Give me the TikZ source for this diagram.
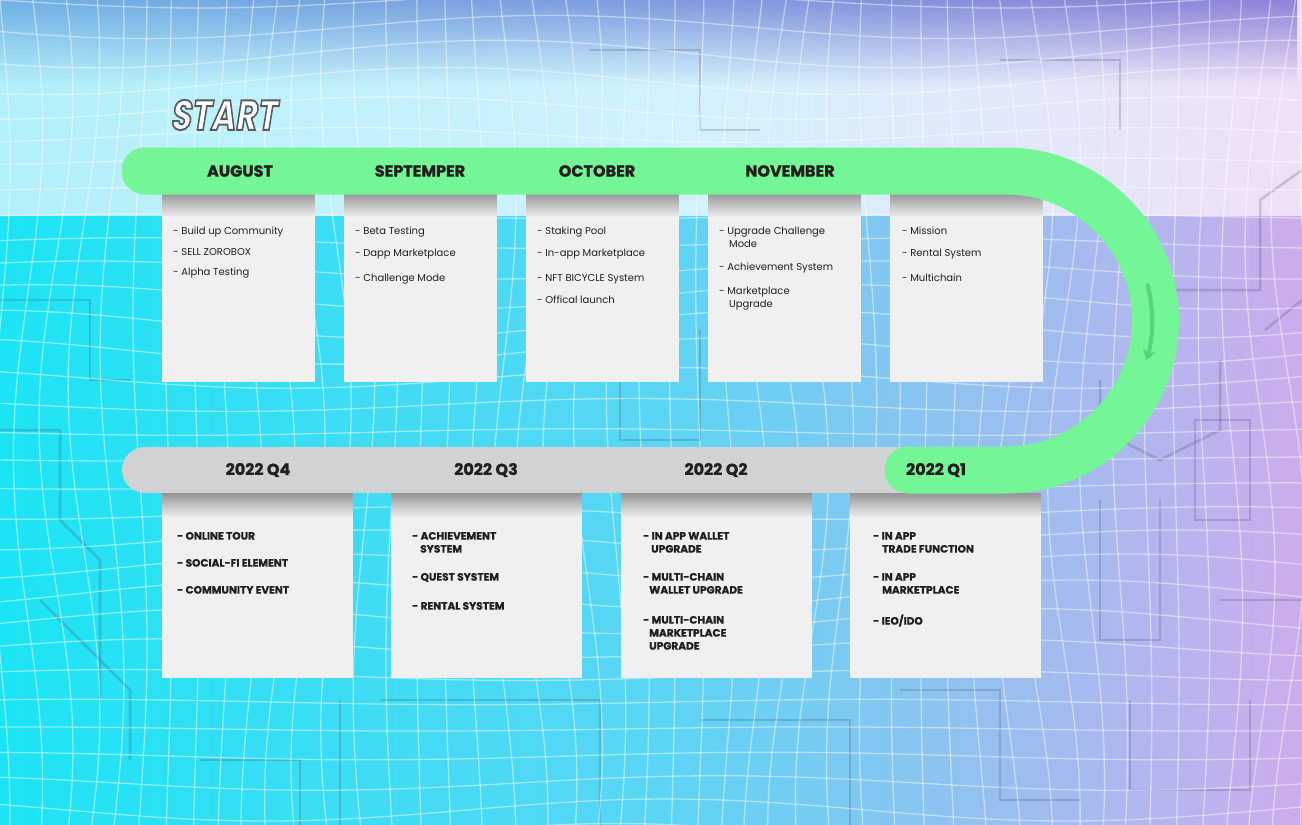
\documentclass[tikz,border=0pt]{standalone}
\usepackage{fontspec}
\setmainfont{Poppins}
\newfontfamily\startfont[FakeSlant=0.2]{Poppins}
\newfontfamily\headfont[FakeBold=1.3]{Poppins}
\newfontfamily\itbfont[FakeBold=0.9]{Poppins}
\usetikzlibrary{fadings,arrows.meta}
\tikzfading[name=fadedown, top color=transparent!0, bottom color=transparent!100]
\definecolor{rgreen}{RGB}{116,245,150}
\definecolor{rgray}{RGB}{209,210,212}
\definecolor{boxc}{RGB}{240,240,240}
\definecolor{shadowc}{RGB}{150,150,150}
\definecolor{txt}{RGB}{35,31,32}
\definecolor{arrowc}{RGB}{88,212,125}
\definecolor{bgA}{RGB}{28,228,244}
\definecolor{bgB}{RGB}{90,214,244}
\definecolor{bgC}{RGB}{205,172,236}
\definecolor{tpA}{RGB}{178,240,250}
\definecolor{tpB}{RGB}{208,242,252}
\definecolor{tpC}{RGB}{240,224,247}
\definecolor{topblue}{RGB}{100,165,225}
\definecolor{toppurp}{RGB}{125,115,210}
\definecolor{decoc}{RGB}{60,70,90}
\newcommand\ti[4]{\node[itm] (#1) at (#2,{#3+3.5}) {#4};}
\newcommand\tb[4]{\node[itb] (#1) at (#2,{#3+3.6}) {#4};}
\newcommand\boxshadow[1]{\fill[shadowc, path fading=fadedown] (#1.north west) rectangle ([yshift=-24pt]#1.north east);}
\newcommand\outlined[1]{\special{pdf:literal direct 2 Tr 1.6 w 0.35 0.35 0.37 RG}#1\special{pdf:literal direct 0 Tr}}
\begin{document}
\begin{tikzpicture}[x=1pt,y=-1pt,
  head/.style={font=\fontsize{16}{16}\selectfont\headfont\bfseries, text=txt, inner sep=0},
  itm/.style={font=\fontsize{10}{12}\selectfont, text=txt, inner sep=0, anchor=base west},
  itb/.style={font=\fontsize{10.6}{12}\selectfont\itbfont\bfseries, text=txt, inner sep=0, anchor=base west},
  tbox/.style={fill=boxc, inner sep=0, anchor=north west, draw=none},
  topbox/.style={tbox, minimum width=153pt, minimum height=189pt},
  botbox/.style={tbox, minimum width=191pt, minimum height=185pt},
  startt/.style={font=\fontsize{35}{35}\selectfont\startfont\bfseries, inner sep=0},
  deco/.style={draw=decoc, draw opacity=0.22, line width=2.5pt},
]
\useasboundingbox (0,0) rectangle (1302,825);
% background
\begin{scope}
\clip (0,0) rectangle (1302,825);
\shade[left color=bgA, right color=bgC, middle color=bgB] (0,215) rectangle (1302,825);
\shade[left color=tpA, right color=tpC, middle color=tpB] (0,0) rectangle (1302,215);
\shade[left color=topblue, right color=toppurp, path fading=fadedown, opacity=0.85] (0,0) rectangle (1302,85);
% decorative outlines
\draw[deco] (0,430) -- (60,430) -- (60,520) -- (100,560) -- (100,700);
\draw[deco] (620,330) -- (620,440) -- (700,440) -- (700,330);
\draw[deco] (1100,380) -- (1100,430) -- (1160,460) -- (1220,430) -- (1220,360);
\draw[deco] (1165,290) -- (1260,290) -- (1260,200) -- (1302,170);
\draw[deco] (1265,330) -- (1302,300);
\draw[deco] (1195,420) -- (1250,420) -- (1250,520) -- (1195,520) -- cycle;
\draw[deco] (1100,500) -- (1100,640) -- (1160,640) -- (1160,500);
\draw[deco] (1220,600) -- (1302,600);
\draw[deco] (340,700) -- (340,825);
\draw[deco] (380,700) -- (600,700) -- (600,825);
\draw[deco] (700,720) -- (850,720) -- (850,825);
\draw[deco] (900,690) -- (1000,690) -- (1000,800) -- (1080,800);
\draw[deco] (1130,700) -- (1130,790) -- (1250,790) -- (1250,700);
\draw[deco] (0,300) -- (90,300) -- (90,380) -- (130,380);
\draw[deco] (40,600) -- (130,690) -- (130,760);
\draw[deco] (590,50) -- (700,50) -- (700,130) -- (760,130);
\draw[deco] (1000,60) -- (1120,60) -- (1120,130);
\draw[deco] (200,760) -- (300,760) -- (300,825);
% wavy grid
\begin{scope}[white, line width=1.3pt, opacity=0.45]
\foreach \k in {0,...,31} {
  \draw plot[domain=0:1302, samples=45, smooth] (\x,{\k*27 + (8+6*sin(\k*37))*sin(\x*0.45+\k*23)});
}
\foreach \k in {-1,...,48} {
  \draw plot[domain=0:825, samples=35, smooth] ({\k*28 + (10+7*sin(\k*41))*sin(\x*0.55+\k*19)},\x);
}
\end{scope}
\end{scope}
% START
\node[startt, text=white] (start) at (223,115) {\scalebox{0.95}[1.2]{\outlined{START}}};
% boxes
\node[topbox] (b1) at (162,193) {};
\node[topbox] (b2) at (344,193) {};
\node[topbox] (b3) at (526,193) {};
\node[topbox] (b4) at (708,193) {};
\node[topbox] (b5) at (890,193) {};
\node[botbox] (q4) at (162,493) {};
\node[botbox] (q3) at (391,493) {};
\node[botbox] (q2) at (621,493) {};
\node[botbox] (q1) at (850,493) {};
\foreach \b in {b1,b2,b3,b4,b5,q4,q3,q2,q1} {\boxshadow{\b}}
% bars
\draw[rgray, line width=46pt, line cap=round] (145,470) -- (1006,470);
\draw[rgreen, line width=47pt, line cap=round] (145,171) -- (1006,171)
  arc[start angle=-90, end angle=90, radius=149.5] -- (908,470);
\draw[arrowc, line width=4pt, line cap=round, -{Stealth[length=11pt,width=13pt]}]
  (1006,320.5) ++(-14:146) arc[start angle=-14, end angle=16, radius=146];
% headings
\node[head] (h1) at (240,171) {AUGUST};
\node[head] (h2) at (420,171) {SEPTEMPER};
\node[head] (h3) at (597,171) {OCTOBER};
\node[head] (h4) at (790,171) {NOVEMBER};
\node[head] (g4) at (258,470) {2022 Q4};
\node[head] (g3) at (486,470) {2022 Q3};
\node[head] (g2) at (716,470) {2022 Q2};
\node[head] (g1) at (936,470) {2022 Q1};
% top items
\ti{a1}{173}{231}{- Build up Community}
\ti{a2}{173}{252}{- SELL ZOROBOX}
\ti{a3}{173}{272}{- Alpha Testing}
\ti{s1}{355}{231}{- Beta Testing}
\ti{s2}{355}{253}{- Dapp Marketplace}
\ti{s3}{355}{278}{- Challenge Mode}
\ti{o1}{537}{231}{- Staking Pool}
\ti{o2}{537}{253}{- In-app Marketplace}
\ti{o3}{537}{278}{- NFT BICYCLE System}
\ti{o4}{537}{300}{- Offical launch}
\ti{n1}{719}{231}{- Upgrade Challenge}
\ti{n1b}{729}{244}{Mode}
\ti{n2}{719}{267}{- Achievement System}
\ti{n3}{719}{291}{- Marketplace}
\ti{n3b}{729}{304}{Upgrade}
\ti{m1}{902}{231}{- Mission}
\ti{m2}{902}{253}{- Rental System}
\ti{m3}{902}{278}{- Multichain}
% bottom items
\tb{r1}{177}{536}{- ONLINE TOUR}
\tb{r2}{177}{563}{- SOCIAL-FI ELEMENT}
\tb{r3}{177}{590}{- COMMUNITY EVENT}
\tb{t1}{412}{536}{- ACHIEVEMENT}
\tb{t1b}{420}{549}{SYSTEM}
\tb{t2}{412}{577}{- QUEST SYSTEM}
\tb{t3}{412}{606}{- RENTAL SYSTEM}
\tb{u1}{643}{536}{- IN APP WALLET}
\tb{u1b}{651}{549}{UPGRADE}
\tb{u2}{643}{577}{- MULTI-CHAIN}
\tb{u2b}{649}{590}{WALLET UPGRADE}
\tb{u3}{643}{620}{- MULTI-CHAIN}
\tb{u3b}{649}{633}{MARKETPLACE}
\tb{u3c}{649}{646}{UPGRADE}
\tb{v1}{873}{536}{- IN APP}
\tb{v1b}{882}{549}{TRADE FUNCTION}
\tb{v2}{873}{577}{- IN APP}
\tb{v2b}{882}{590}{MARKETPLACE}
\tb{v3}{873}{621}{- IEO/IDO}
\end{tikzpicture}
\end{document}
